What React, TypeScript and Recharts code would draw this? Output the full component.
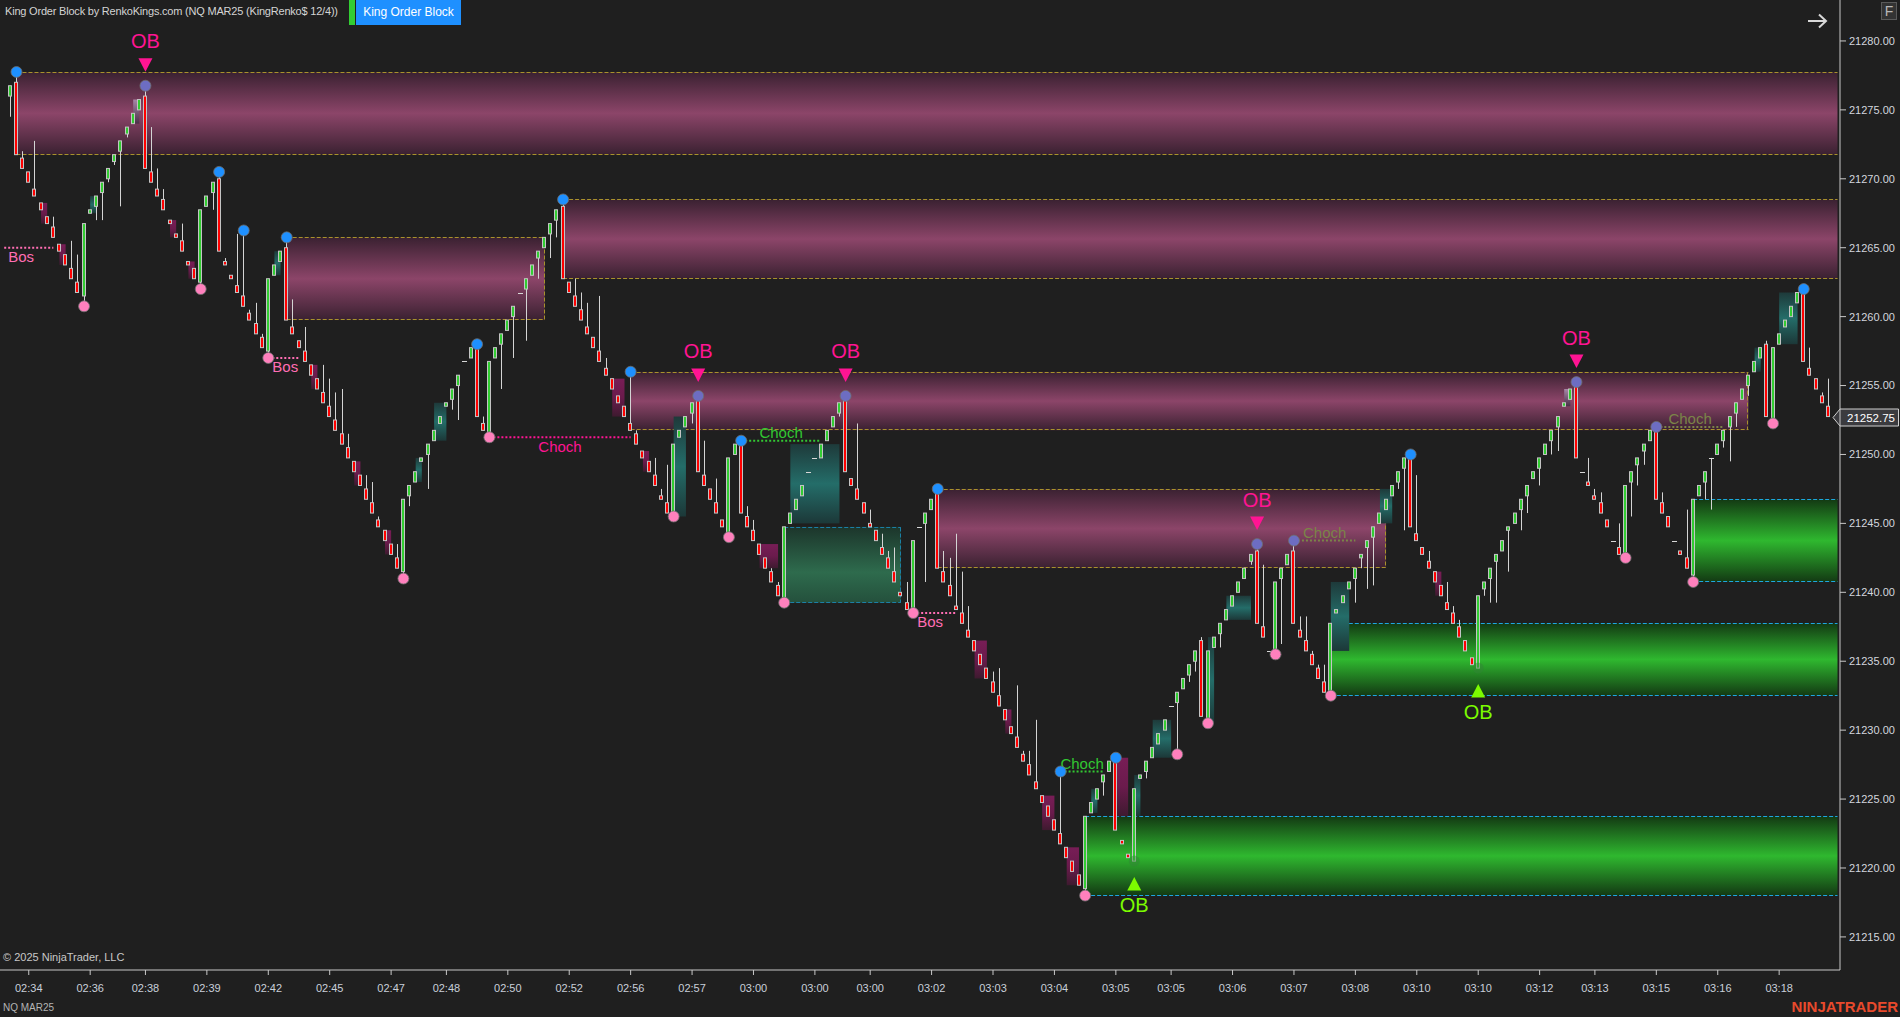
import React from 'react';
import { ComposedChart, Bar, Line, XAxis, YAxis, ReferenceArea, ReferenceLine } from 'recharts';

const FONT = '"Liberation Sans", Arial, sans-serif';
const NARROW = '"Liberation Sans Narrow", "Liberation Sans", Arial, sans-serif';
const BG = '#1f1f1f';
const AXIS = '#c8c8c8';

// price scale
const priceDomain = [21212.6, 21282.97];
const priceTicks = [21215, 21220, 21225, 21230, 21235, 21240, 21245, 21250, 21255, 21260, 21265, 21270, 21275, 21280];
const lastPrice = 21252.75;

// time scale: bar index -> label
const timeTickBars = [3, 13, 22, 32, 42, 52, 62, 71, 81, 91, 101, 111, 121, 131, 140, 150, 160, 170, 180, 189, 199, 209, 219, 229, 239, 249, 258, 268, 278, 288];
const timeTickLabels = ['02:34', '02:36', '02:38', '02:39', '02:42', '02:45', '02:47', '02:48', '02:50', '02:52', '02:56', '02:57', '03:00', '03:00', '03:00', '03:02', '03:03', '03:04', '03:05', '03:05', '03:06', '03:07', '03:08', '03:10', '03:10', '03:12', '03:13', '03:15', '03:16', '03:18'];

// renko bricks [open, close, high, low] -- high/low left out when the brick has no wick
const bricks0234 = [
  [21276, 21276.75, 21276.75, 21274.5], [21277, 21271.75, 21277.75, 21271.75], [21271.5, 21270.75, 21272, 21270.75], [21270.5, 21269.75],
  [21269.25, 21268.75, 21272.75, 21268.75], [21268.25, 21267.75], [21267.25, 21266.75], [21266.5, 21265.75, 21267.25, 21265.75],
  [21265.25, 21264.75], [21264.5, 21263.75], [21263.5, 21262.75, 21265.5, 21262.75], [21262.5, 21261.75, 21264.5, 21261.75],
  [21261.5, 21266.75, 21266.75, 21260.75], [21267.5, 21267.75], [21268, 21268.75, 21268.75, 21267], [21269, 21269.75, 21269.75, 21267],
  [21270, 21270.75, 21270.75, 21269.75], [21271.25, 21271.75, 21271.75, 21271], [21272, 21272.75, 21272.75, 21268], [21273.25, 21273.75, 21273.75, 21273],
  [21274, 21274.75], [21275, 21275.75], [21276, 21270.75, 21276.75, 21270.75], [21270.5, 21269.75, 21273.75, 21269.75],
  [21269.25, 21268.75, 21270.75, 21268.75], [21268.5, 21267.75, 21269.25, 21267.75], [21267, 21266.75], [21266, 21265.75],
  [21265.5, 21264.75, 21266.75, 21264.75], [21264, 21263.75],
];
const bricks0245 = [
  [21263.5, 21262.75], [21262.5, 21267.75, 21267.75, 21262], [21268, 21268.75], [21269, 21269.75, 21269.75, 21267.75],
  [21270, 21264.75, 21270.5, 21264.75], [21264, 21263.75, 21264.25, 21263.75], [21263, 21262.75], [21262.25, 21261.75, 21266, 21261.75],
  [21261.5, 21260.75, 21266.25, 21260.75], [21260.25, 21259.75, 21260.5, 21259.75], [21259.5, 21258.75, 21261, 21258.75], [21258.5, 21257.75, 21258.75, 21257.75],
  [21257.5, 21262.75, 21262.75, 21257], [21263, 21263.75], [21264, 21264.75], [21265, 21259.75, 21265.75, 21259.75],
  [21259.25, 21258.75, 21261.25, 21258.75], [21258.25, 21257.75], [21257.5, 21256.75, 21259.25, 21256.75], [21256.5, 21255.75],
  [21255.5, 21254.75], [21254.5, 21253.75, 21256.5, 21253.75], [21253.5, 21252.75, 21255.5, 21252.75], [21252.5, 21251.75, 21254.5, 21251.75],
  [21251.5, 21250.75, 21254.75, 21250.75], [21250.5, 21249.75, 21251.5, 21249.75], [21249.5, 21248.75], [21248.5, 21247.75],
  [21247.5, 21246.75, 21248.5, 21246.75], [21246.5, 21245.75, 21248, 21245.75],
];
const bricks0247 = [
  [21245.25, 21244.75, 21245.5, 21244.75], [21244.5, 21243.75], [21243.5, 21242.75], [21242.5, 21241.75, 21243.5, 21241.75],
  [21241.5, 21246.75, 21246.75, 21241], [21247, 21247.75, 21247.75, 21246.25], [21248, 21248.75], [21249.5, 21249.75],
  [21250, 21250.75, 21250.75, 21247.5], [21251, 21251.75], [21252.25, 21252.75], [21253.5, 21253.75],
  [21254, 21254.75, 21254.75, 21253.25], [21255, 21255.75, 21255.75, 21252.5], [21256.75, 21256.75], [21257, 21257.75],
  [21258, 21252.75, 21258, 21252.75], [21252.25, 21251.75, 21252.75, 21251.75], [21251.5, 21256.75, 21256.75, 21251.25], [21257, 21257.75],
  [21258, 21258.75, 21258.75, 21254.75], [21259, 21259.75], [21260, 21260.75, 21260.75, 21257], [21261.75, 21261.75],
  [21262, 21262.75, 21262.75, 21258.25], [21263, 21263.75], [21264.25, 21264.75, 21264.75, 21262.75], [21265, 21265.75],
  [21266, 21266.75, 21266.75, 21264.25], [21267, 21267.75, 21267.75, 21265.75],
];
const bricks0252 = [
  [21268, 21262.75, 21268.5, 21262.75], [21262.5, 21261.75], [21261.5, 21260.75, 21262.75, 21260.75], [21260.5, 21259.75, 21261.75, 21259.75],
  [21259.25, 21258.75, 21261, 21258.75], [21258.5, 21257.75], [21257.5, 21256.75, 21261.5, 21256.75], [21256.25, 21255.75, 21257, 21255.75],
  [21255.5, 21254.75], [21254.25, 21253.75], [21253.5, 21252.75], [21252.25, 21251.75, 21256, 21251.75],
  [21251.5, 21250.75, 21251.75, 21250.75], [21250.25, 21249.75], [21249.5, 21248.75], [21248.5, 21247.75, 21249.75, 21247.75],
  [21247, 21246.75, 21247.5, 21246.75], [21246.5, 21245.75, 21249.25, 21245.75], [21245.5, 21250.75, 21250.75, 21245.5], [21251.25, 21251.75],
  [21252, 21252.75], [21253, 21253.75, 21253.75, 21252.25], [21254.25, 21248.75], [21248.5, 21247.75, 21251, 21247.75],
  [21247.5, 21246.75], [21246.5, 21245.75, 21248.25, 21245.75], [21245.25, 21244.75], [21244.25, 21249.75, 21249.75, 21244],
  [21250, 21250.75], [21250.75, 21245.75, 21251, 21245.75],
];
const bricks0300 = [
  [21245.5, 21244.75, 21246.25, 21244.75], [21244.5, 21243.75, 21245.25, 21243.75], [21243.5, 21242.75], [21242.5, 21241.75],
  [21241.5, 21240.75, 21241.75, 21240.75], [21240.5, 21239.75, 21240.75, 21239.75], [21239.5, 21244.75, 21244.75, 21239.25], [21245, 21245.75],
  [21246, 21246.75], [21247, 21247.75], [21248.75, 21248.75], [21249.75, 21249.75],
  [21249.75, 21250.75], [21251, 21251.75], [21252, 21252.75], [21253, 21253.75, 21253.75, 21252.75],
  [21254.25, 21248.75], [21248.25, 21247.75], [21247.5, 21246.75, 21252.25, 21246.75], [21246.5, 21245.75],
  [21245, 21244.75, 21246, 21244.75], [21244.5, 21243.75], [21243.25, 21242.75, 21244.25, 21242.75], [21242.5, 21241.75, 21243, 21241.75],
  [21241.5, 21240.75, 21243.25, 21240.75], [21240, 21239.75], [21239.25, 21238.75, 21240.75, 21238.75], [21238.5, 21243.75, 21243.75, 21238.5],
  [21244.75, 21244.75], [21245, 21245.75, 21245.75, 21240.75],
];
const bricks0302 = [
  [21246, 21246.75], [21247.25, 21241.75, 21247.5, 21241.75], [21241.5, 21240.75, 21243, 21240.75], [21240.5, 21239.75, 21242.5, 21239.75],
  [21239, 21238.75, 21244.25, 21238.75], [21238.5, 21237.75, 21241.5, 21237.75], [21237.25, 21236.75, 21239, 21236.75], [21236.5, 21235.75],
  [21235.5, 21234.75], [21234.5, 21233.75], [21233.5, 21232.75, 21234.25, 21232.75], [21232.5, 21231.75, 21234.5, 21231.75],
  [21231.5, 21230.75], [21230.25, 21229.75], [21229.5, 21228.75, 21233.25, 21228.75], [21228.25, 21227.75, 21228.5, 21227.75],
  [21227.5, 21226.75, 21228.5, 21226.75], [21226.25, 21225.75, 21230.75, 21225.75], [21225.25, 21224.75], [21224.5, 21223.75],
  [21223.5, 21222.75], [21222.5, 21221.75, 21227, 21221.75], [21221.5, 21220.75], [21220.5, 21219.75],
  [21219.5, 21218.75], [21218.5, 21223.75, 21223.75, 21218], [21224, 21224.75], [21225, 21225.75],
  [21226.25, 21226.75, 21226.75, 21225.25], [21227, 21227.75],
];
const bricks0305 = [
  [21228, 21222.75], [21222, 21221.75], [21221, 21220.75], [21220.5, 21225.75],
  [21226.5, 21226.75], [21227, 21227.75, 21227.75, 21226.5], [21228, 21228.75], [21229, 21229.75],
  [21230, 21230.75], [21231.75, 21231.75], [21232, 21232.75, 21232.75, 21228.25], [21233, 21233.75],
  [21234, 21234.75, 21234.75, 21233.5], [21235, 21235.75, 21235.75, 21234.25], [21236.5, 21231, 21236.75, 21231], [21230.5, 21235.75],
  [21236, 21236.75], [21237, 21237.75, 21237.75, 21236], [21238, 21238.75], [21239, 21239.75],
  [21240, 21240.75], [21241, 21241.75], [21242.25, 21242.75, 21242.75, 21242], [21243, 21237.75, 21243.5, 21237.75],
  [21237.5, 21236.75, 21242, 21236.75], [21235.75, 21235.75], [21235.5, 21240.75], [21241, 21241.75, 21241.75, 21236.25],
  [21242, 21242.75], [21243, 21237.75, 21243.75, 21237.75],
];
const bricks0308 = [
  [21237.25, 21236.75, 21238.25, 21236.75], [21236.5, 21235.75, 21238.25, 21235.75], [21235.5, 21234.75, 21235.75, 21234.75], [21234.5, 21233.75, 21234.75, 21233.75],
  [21233.5, 21232.75, 21234.75, 21232.75], [21232.5, 21237.75], [21238.5, 21238.75], [21239.25, 21239.75],
  [21240.25, 21240.75], [21241, 21241.75, 21241.75, 21239.25], [21242.5, 21242.75, 21242.75, 21241.75], [21243.25, 21243.75, 21243.75, 21240.25],
  [21244, 21244.75, 21244.75, 21240.5], [21245, 21245.75], [21246, 21246.75], [21247, 21247.75],
  [21248, 21248.75, 21248.75, 21247.5], [21249, 21249.75, 21249.75, 21244.5], [21250, 21244.75], [21244.25, 21243.75, 21248.5, 21243.75],
  [21243.25, 21242.75], [21242.25, 21241.75, 21243, 21241.75], [21241.5, 21240.75], [21240.5, 21239.75],
  [21239.25, 21238.75, 21240.75, 21238.75], [21238.5, 21237.75, 21239, 21237.75], [21237.5, 21236.75, 21238, 21236.75], [21236.5, 21235.75],
  [21235.25, 21234.75], [21234.5, 21239.75],
];
const bricks0312 = [
  [21240.25, 21240.75, 21240.75, 21239.75], [21241, 21241.75, 21241.75, 21239.25], [21242.25, 21242.75, 21242.75, 21239.25], [21243, 21243.75],
  [21244.5, 21244.75, 21244.75, 21241.5], [21245, 21245.75], [21246, 21246.75, 21246.75, 21244.5], [21247, 21247.75, 21247.75, 21245.75],
  [21248.25, 21248.75], [21249, 21249.75, 21249.75, 21247.75], [21250, 21250.75], [21251, 21251.75, 21251.75, 21250],
  [21252, 21252.75, 21252.75, 21250.25], [21253.5, 21253.75], [21254, 21254.75], [21255, 21249.75, 21255.25, 21249.75],
  [21248.75, 21248.75], [21248, 21247.75, 21249.75, 21247.75], [21247, 21246.75, 21247.5, 21246.75], [21246.5, 21245.75, 21247.25, 21245.75],
  [21245.25, 21244.75], [21243.75, 21243.75], [21243.25, 21242.75, 21245, 21242.75], [21242.75, 21247.75, 21247.75, 21242.5],
  [21248, 21248.75, 21248.75, 21245.5], [21249.25, 21249.75, 21249.75, 21247.75], [21250.25, 21250.75, 21250.75, 21249.25], [21251, 21251.75],
  [21252, 21246.75], [21246.5, 21245.75, 21247.25, 21245.75],
];
const bricks0316 = [
  [21245.5, 21244.75], [21243.75, 21243.75], [21243, 21242.75], [21242.5, 21241.75, 21246, 21241.75],
  [21241.25, 21246.75, 21246.75, 21240.75], [21247, 21247.75], [21248, 21248.75, 21248.75, 21246.75], [21249.75, 21249.75, 21249.75, 21246],
  [21250, 21250.75], [21251, 21251.75, 21251.75, 21250.5], [21252, 21252.75, 21252.75, 21249.5], [21253, 21253.75, 21253.75, 21252],
  [21254, 21254.75], [21255, 21255.75, 21255.75, 21254.25], [21256, 21256.75], [21257, 21257.75],
  [21258, 21252.75, 21258.25, 21252.75], [21252.5, 21257.75, 21257.75, 21252.25], [21258, 21258.75], [21259.25, 21259.75],
  [21260, 21260.75], [21261, 21261.75], [21262, 21256.75], [21256.25, 21255.75, 21257.75, 21255.75],
  [21255.5, 21254.75], [21254.25, 21253.75, 21254.5, 21253.75], [21253.5, 21252.75, 21255.5, 21252.75],
];

// swing points [bar, price]
const swingHighs = [[1, 21277.75], [34, 21270.5], [38, 21266.25], [45, 21265.75], [76, 21258], [90, 21268.5], [101, 21256], [119, 21251], [151, 21247.5], [171, 21227], [180, 21228], [228, 21250], [292, 21262]];
const swingLows = [[12, 21260.75], [31, 21262], [42, 21257], [64, 21241], [78, 21251.25], [108, 21245.5], [117, 21244], [126, 21239.25], [147, 21238.5], [175, 21218], [190, 21228.25], [195, 21230.5], [206, 21235.5], [215, 21232.5], [263, 21242.5], [274, 21240.75], [287, 21252.25]];
const orderBlockHighs = [[22, 21276.75], [112, 21254.25], [136, 21254.25], [203, 21243.5], [209, 21243.75], [255, 21255.25], [268, 21252]];
const orderBlockLows = [[183, 21220.5], [239, 21234.5]];
const bearObBars = [22, 112, 136, 203, 255];
const bullObBars = [183, 239];

// zones [fromBar, toBar (null = still open), top, bottom]
const bearZones = [[1, null, 21277.75, 21271.75], [90, null, 21268.5, 21262.75], [45, 87, 21265.75, 21259.75], [101, 283, 21256, 21251.75], [151, 224, 21247.5, 21241.75]];
const bullZones = [[215, null, 21237.75, 21232.5], [175, null, 21223.75, 21218], [274, null, 21246.75, 21240.75]];
const brokenZones = [[126, 145, 21244.75, 21239.25]];

// imbalance shading [fromBar, toBar, top, bottom]
const tealShades = [[13, 14, 21268.75, 21267.5], [43, 44, 21264.75, 21263], [66, 67, 21249.75, 21248], [69, 71, 21253.75, 21251], [108, 110, 21252.75, 21245.5], [127, 135, 21250.75, 21245], [176, 177, 21225.75, 21224], [183, 184, 21226.75, 21223.75], [186, 189, 21230.75, 21228], [195, 196, 21236.75, 21230.5], [198, 202, 21239.75, 21238], [215, 218, 21240.75, 21235.75], [223, 225, 21247.5, 21245], [284, 285, 21257.75, 21256], [288, 291, 21261.75, 21258]];
const magentaShades = [[5, 6, 21268.25, 21266.75], [8, 9, 21265.25, 21263.75], [26, 27, 21267, 21265.75], [29, 30, 21264, 21262.75], [49, 50, 21256.5, 21254.75], [56, 57, 21249.5, 21247.75], [61, 62, 21244.5, 21242.75], [98, 100, 21255.5, 21252.75], [103, 104, 21250.25, 21248.75], [122, 125, 21243.5, 21241.75], [157, 159, 21236.5, 21233.75], [162, 163, 21231.5, 21229.75], [168, 170, 21225.25, 21222.75], [172, 174, 21221.5, 21218.75], [180, 182, 21228, 21223.75], [232, 233, 21241.5, 21239.75]];
const lilacShades = [[20, 21, 21275.75, 21274], [253, 254, 21254.75, 21253.5]];

// structure breaks [fromBar, toBar, price]
const bosLines = [[-1, 7, 21265], [42, 47, 21257], [147, 154, 21238.5]];
const chochBearLines = [[78, 101, 21251.25]];
const chochBullLines = [[119, 132, 21251], [171, 178, 21227]];
const chochFaintLines = [[209, 219, 21243.75], [268, 279, 21252]];

const allBricks = [...bricks0234, ...bricks0245, ...bricks0247, ...bricks0252, ...bricks0300, ...bricks0302, ...bricks0305, ...bricks0308, ...bricks0312, ...bricks0316];
const lastSlot = allBricks.length;

const rows: any[] = [{ k: -1 }];
allBricks.forEach((b, i) => {
  const [o, c] = b;
  const h = b.length > 2 ? b[2] : Math.max(o, c);
  const l = b.length > 3 ? b[3] : Math.min(o, c);
  rows.push({ k: i, o, c, h, l, range: [l, h] });
});
rows.push({ k: lastSlot });
const row = (k: number) => rows[k + 1];
swingHighs.forEach(([k, p]) => Object.assign(row(k), { pivot: p, pivotKind: 'high' }));
swingLows.forEach(([k, p]) => Object.assign(row(k), { pivot: p, pivotKind: 'low' }));
orderBlockHighs.forEach(([k, p]) => Object.assign(row(k), { pivot: p, pivotKind: 'ob' }));
orderBlockLows.forEach(([k, p]) => Object.assign(row(k), { pivot: p, pivotKind: 'ghost' }));
bearObBars.forEach((k) => { row(k).ob = 'bear'; });
bullObBars.forEach((k) => { row(k).ob = 'bull'; });

const fmtTime = (v: number) => timeTickLabels[timeTickBars.indexOf(v)] ?? '';

const pivotFill: Record<string, string> = { high: '#1e90ff', low: '#ff80bd', ob: '#6d6dc2', ghost: 'rgba(50,130,55,0.45)' };

const Candle = (props: any) => {
  const { x, y, width, height, payload } = props;
  if (!payload || payload.o == null) return <g />;
  const { o, c, h, l } = payload;
  const cx = Math.floor(x + width / 2) + 0.5;
  const span = h - l;
  const py = (p: number) => (span > 0 ? y + ((h - p) / span) * height : y);
  const top = py(Math.max(o, c));
  const bot = py(Math.min(o, c));
  return (
    <g>
      {span > 0 && <line x1={cx} x2={cx} y1={y} y2={y + height} stroke="#d4d4d4" strokeWidth={1} />}
      {o === c ? (
        <line x1={cx - 2.5} x2={cx + 2.5} y1={Math.round(top) + 0.5} y2={Math.round(top) + 0.5} stroke="#d8d8d8" strokeWidth={1} />
      ) : (
        <rect x={cx - 2} y={top} width={3} height={Math.max(bot - top, 1.5)} fill={c > o ? '#32cd32' : '#ff0000'} stroke="#c4c4c4" strokeWidth={1} />
      )}
    </g>
  );
};

const renderPivot = (p: any) => {
  const { cx, cy, payload, index } = p;
  if (!payload || payload.pivot == null || cx == null || cy == null) return <g key={'pv' + index} />;
  const kind = payload.pivotKind;
  return (
    <g key={'pv' + index}>
      <circle cx={cx} cy={cy} r={5.5} fill={pivotFill[kind]} stroke={kind === 'ghost' ? 'none' : 'rgba(110,110,110,0.8)'} strokeWidth={1} />
      {payload.ob === 'bear' && (
        <g>
          <polygon points={`${cx - 7},${cy - 27.5} ${cx + 7},${cy - 27.5} ${cx},${cy - 14}`} fill="#ff1493" />
          <text x={cx} y={cy - 44.5} textAnchor="middle" dominantBaseline="central" fill="#ff1493" fontSize={20} fontFamily={FONT}>OB</text>
        </g>
      )}
      {payload.ob === 'bull' && (
        <g>
          <polygon points={`${cx - 7},${cy + 29.5} ${cx + 7},${cy + 29.5} ${cx},${cy + 16}`} fill="#7cfc00" />
          <text x={cx} y={cy + 44} textAnchor="middle" dominantBaseline="central" fill="#7cfc00" fontSize={20} fontFamily={FONT}>OB</text>
        </g>
      )}
    </g>
  );
};

// area between centers of two bars; open zones run to the right edge
const bandShape = (from: number, to: number, fill: string, edge: string | null, closed: boolean) => (props: any) => {
  const { x, y, width, height } = props;
  if (x == null || width == null) return <g />;
  const bw = width / (to - from + 1);
  const x0 = x + bw / 2;
  const x1 = closed ? x + width - bw / 2 : x + width;
  const yt = Math.round(y) + 0.5;
  const yb = Math.round(y + height) - 0.5;
  return (
    <g>
      <rect x={x0} y={y} width={x1 - x0} height={height} fill={fill} />
      {edge && <line x1={x0} x2={x1} y1={yt} y2={yt} stroke={edge} strokeWidth={1} strokeDasharray="4 2" />}
      {edge && <line x1={x0} x2={x1} y1={yb} y2={yb} stroke={edge} strokeWidth={1} strokeDasharray="4 2" />}
      {edge && closed && <line x1={Math.round(x1) - 0.5} x2={Math.round(x1) - 0.5} y1={yt} y2={yb} stroke={edge} strokeWidth={1} strokeDasharray="4 2" />}
    </g>
  );
};

const structShape = (text: string, color: string, mode: 'start' | 'below' | 'above') => (p: any) => {
  const { x1, y1, x2 } = p;
  if (x1 == null || y1 == null) return <g />;
  const xa = Math.min(x1, x2);
  const xb = Math.max(x1, x2);
  const tx = mode === 'start' ? xa + 4 : (xa + xb) / 2;
  const ty = mode === 'above' ? y1 - 8 : y1 + 9;
  return (
    <g>
      <line x1={xa} x2={xb} y1={y1} y2={y1} stroke={color} strokeWidth={2} strokeDasharray="2 2" />
      <text x={tx} y={ty} textAnchor={mode === 'start' ? 'start' : 'middle'} dominantBaseline="central" fill={color} fontSize={15} fontFamily={FONT}>{text}</text>
    </g>
  );
};

const priceTag = (p: any) => {
  const { x1, x2, y1 } = p;
  if (x2 == null || y1 == null) return <g />;
  const xr = Math.max(x1, x2);
  const cy = Math.round(y1) + 0.5;
  return (
    <g>
      <polygon points={`${xr - 7},${cy} ${xr},${cy - 8.5} ${xr + 58.5},${cy - 8.5} ${xr + 58.5},${cy + 8.5} ${xr},${cy + 8.5}`} fill="#3b3b3f" stroke="#cfcfcf" strokeWidth={1} />
      <text x={xr + 7} y={cy} dominantBaseline="central" fill="#ffffff" fontSize={11.5} fontFamily={FONT}>{lastPrice.toFixed(2)}</text>
    </g>
  );
};

const vGrad = (id: string, stops: [number, string][]) => (
  <linearGradient id={id} x1="0" y1="0" x2="0" y2="1">
    {stops.map(([o, c], i) => <stop key={i} offset={o} stopColor={c} />)}
  </linearGradient>
);

export default function App() {
  return (
    <div style={{ position: 'absolute', left: 0, top: 0, width: 1900, height: 1017, background: BG, overflow: 'hidden', fontFamily: FONT }}>
      <ComposedChart width={1900} height={1017} data={rows} margin={{ top: 0, right: 0, bottom: 0, left: 0 }}>
        <defs>
          {vGrad('zonePink', [[0, '#3a2131'], [0.5, '#8c4569'], [1, '#3a2131']])}
          {vGrad('zoneGreen', [[0, '#133913'], [0.5, '#2fb82f'], [1, '#133913']])}
          {vGrad('zoneTeal', [[0, '#1c352b'], [0.6, '#2e6b4d'], [1, '#24503c']])}
          {vGrad('shadeTeal', [[0, '#1e3a3a'], [0.5, '#246d69'], [1, '#1c3838']])}
          {vGrad('shadeMagenta', [[0, '#781d56'], [0.5, '#6a1b4c'], [1, '#3e1a2f']])}
          {vGrad('shadeLilac', [[0, '#a888a8'], [1, '#4a3048']])}
        </defs>
        <XAxis
          dataKey="k"
          type="category"
          ticks={timeTickBars}
          interval={0}
          tickFormatter={fmtTime}
          padding={{ left: 1.12, right: 2.5 }}
          height={47}
          tickSize={5}
          tickMargin={9}
          axisLine={{ stroke: AXIS }}
          tickLine={{ stroke: AXIS }}
          tick={{ fill: '#c9cfda', fontSize: 11, fontFamily: NARROW }}
        />
        <YAxis
          orientation="right"
          type="number"
          domain={priceDomain}
          allowDataOverflow
          ticks={priceTicks}
          interval={0}
          width={60}
          tickSize={6}
          tickMargin={3}
          tickFormatter={(v: number) => v.toFixed(2)}
          axisLine={{ stroke: AXIS }}
          tickLine={{ stroke: AXIS }}
          tick={{ fill: '#d2d6de', fontSize: 11, fontFamily: FONT }}
        />

        {bearZones.map(([a, b, top, bot], i) => (
          <ReferenceArea key={'bz' + i} x1={a} x2={b ?? lastSlot} y1={top} y2={bot} zIndex={50} ifOverflow="visible"
            shape={bandShape(a as number, (b ?? lastSlot) as number, 'url(#zonePink)', '#a8922c', b != null)} />
        ))}
        {bullZones.map(([a, b, top, bot], i) => (
          <ReferenceArea key={'gz' + i} x1={a} x2={b ?? lastSlot} y1={top} y2={bot} zIndex={50} ifOverflow="visible"
            shape={bandShape(a as number, (b ?? lastSlot) as number, 'url(#zoneGreen)', '#1ea6e0', b != null)} />
        ))}
        {brokenZones.map(([a, b, top, bot], i) => (
          <ReferenceArea key={'tz' + i} x1={a} x2={b} y1={top} y2={bot} zIndex={50} ifOverflow="visible"
            shape={bandShape(a, b, 'url(#zoneTeal)', '#1b7fa6', true)} />
        ))}
        {tealShades.map(([a, b, top, bot], i) => (
          <ReferenceArea key={'ts' + i} x1={a} x2={b} y1={top} y2={bot} zIndex={60} ifOverflow="visible"
            shape={bandShape(a, b, 'url(#shadeTeal)', null, true)} />
        ))}
        {magentaShades.map(([a, b, top, bot], i) => (
          <ReferenceArea key={'ms' + i} x1={a} x2={b} y1={top} y2={bot} zIndex={60} ifOverflow="visible"
            shape={bandShape(a, b, 'url(#shadeMagenta)', null, true)} />
        ))}
        {lilacShades.map(([a, b, top, bot], i) => (
          <ReferenceArea key={'ls' + i} x1={a} x2={b} y1={top} y2={bot} zIndex={60} ifOverflow="visible"
            shape={bandShape(a, b, 'url(#shadeLilac)', null, true)} />
        ))}

        {bosLines.map(([a, b, p], i) => (
          <ReferenceLine key={'bos' + i} segment={[{ x: a, y: p }, { x: b, y: p }]} zIndex={350} ifOverflow="visible" shape={structShape('Bos', '#ff6eb4', 'start')} />
        ))}
        {chochBearLines.map(([a, b, p], i) => (
          <ReferenceLine key={'chb' + i} segment={[{ x: a, y: p }, { x: b, y: p }]} zIndex={350} ifOverflow="visible" shape={structShape('Choch', '#ff1493', 'below')} />
        ))}
        {chochBullLines.map(([a, b, p], i) => (
          <ReferenceLine key={'chu' + i} segment={[{ x: a, y: p }, { x: b, y: p }]} zIndex={350} ifOverflow="visible" shape={structShape('Choch', '#32c832', 'above')} />
        ))}
        {chochFaintLines.map(([a, b, p], i) => (
          <ReferenceLine key={'chf' + i} segment={[{ x: a, y: p }, { x: b, y: p }]} zIndex={350} ifOverflow="visible" shape={structShape('Choch', '#7b8448', 'above')} />
        ))}

        <Line dataKey="pivot" stroke="none" dot={renderPivot} activeDot={false} isAnimationActive={false} legendType="none" zIndex={250} />
        <Bar dataKey="range" shape={Candle} isAnimationActive={false} zIndex={300} />
        <ReferenceLine y={lastPrice} shape={priceTag} zIndex={400} ifOverflow="visible" />
      </ComposedChart>

      <div style={{ position: 'absolute', left: 5, top: 4, fontSize: 11, letterSpacing: -0.2, lineHeight: '15px', color: '#d4d4d4', whiteSpace: 'nowrap' }}>
        King Order Block by RenkoKings.com (NQ MAR25 (KingRenko$ 12/4))
      </div>
      <div style={{ position: 'absolute', left: 349, top: 0, width: 6, height: 25, background: '#32cd32' }} />
      <div style={{ position: 'absolute', left: 356, top: 0, width: 105, height: 25, background: '#1e90ff', color: '#ffffff', fontSize: 12, lineHeight: '25px', textAlign: 'center' }}>
        King Order Block
      </div>
      <svg style={{ position: 'absolute', left: 1806, top: 13 }} width={22} height={16}>
        <path d="M2 8 H20 M13 1.5 L20 8 L13 14.5" stroke="#d8d8d8" strokeWidth={2} fill="none" />
      </svg>
      <div style={{ position: 'absolute', left: 1881, top: 2, width: 14, height: 16, background: '#333333', border: '1px solid #5a5a5a', color: '#b8b8b8', fontSize: 14, lineHeight: '16px', textAlign: 'center' }}>F</div>
      <div style={{ position: 'absolute', left: 3, top: 950, fontSize: 11, lineHeight: '14px', color: '#c8c8c8', fontFamily: NARROW, whiteSpace: 'nowrap' }}>© 2025 NinjaTrader, LLC</div>
      <div style={{ position: 'absolute', left: 3, top: 1002, fontSize: 10, lineHeight: '12px', color: '#b4b4b4', fontFamily: NARROW, whiteSpace: 'nowrap' }}>NQ MAR25</div>
      <div style={{ position: 'absolute', right: 2, top: 998, fontSize: 15, lineHeight: '17px', fontWeight: 'bold', color: '#e84a2c', whiteSpace: 'nowrap' }}>NINJATRADER</div>
    </div>
  );
}
